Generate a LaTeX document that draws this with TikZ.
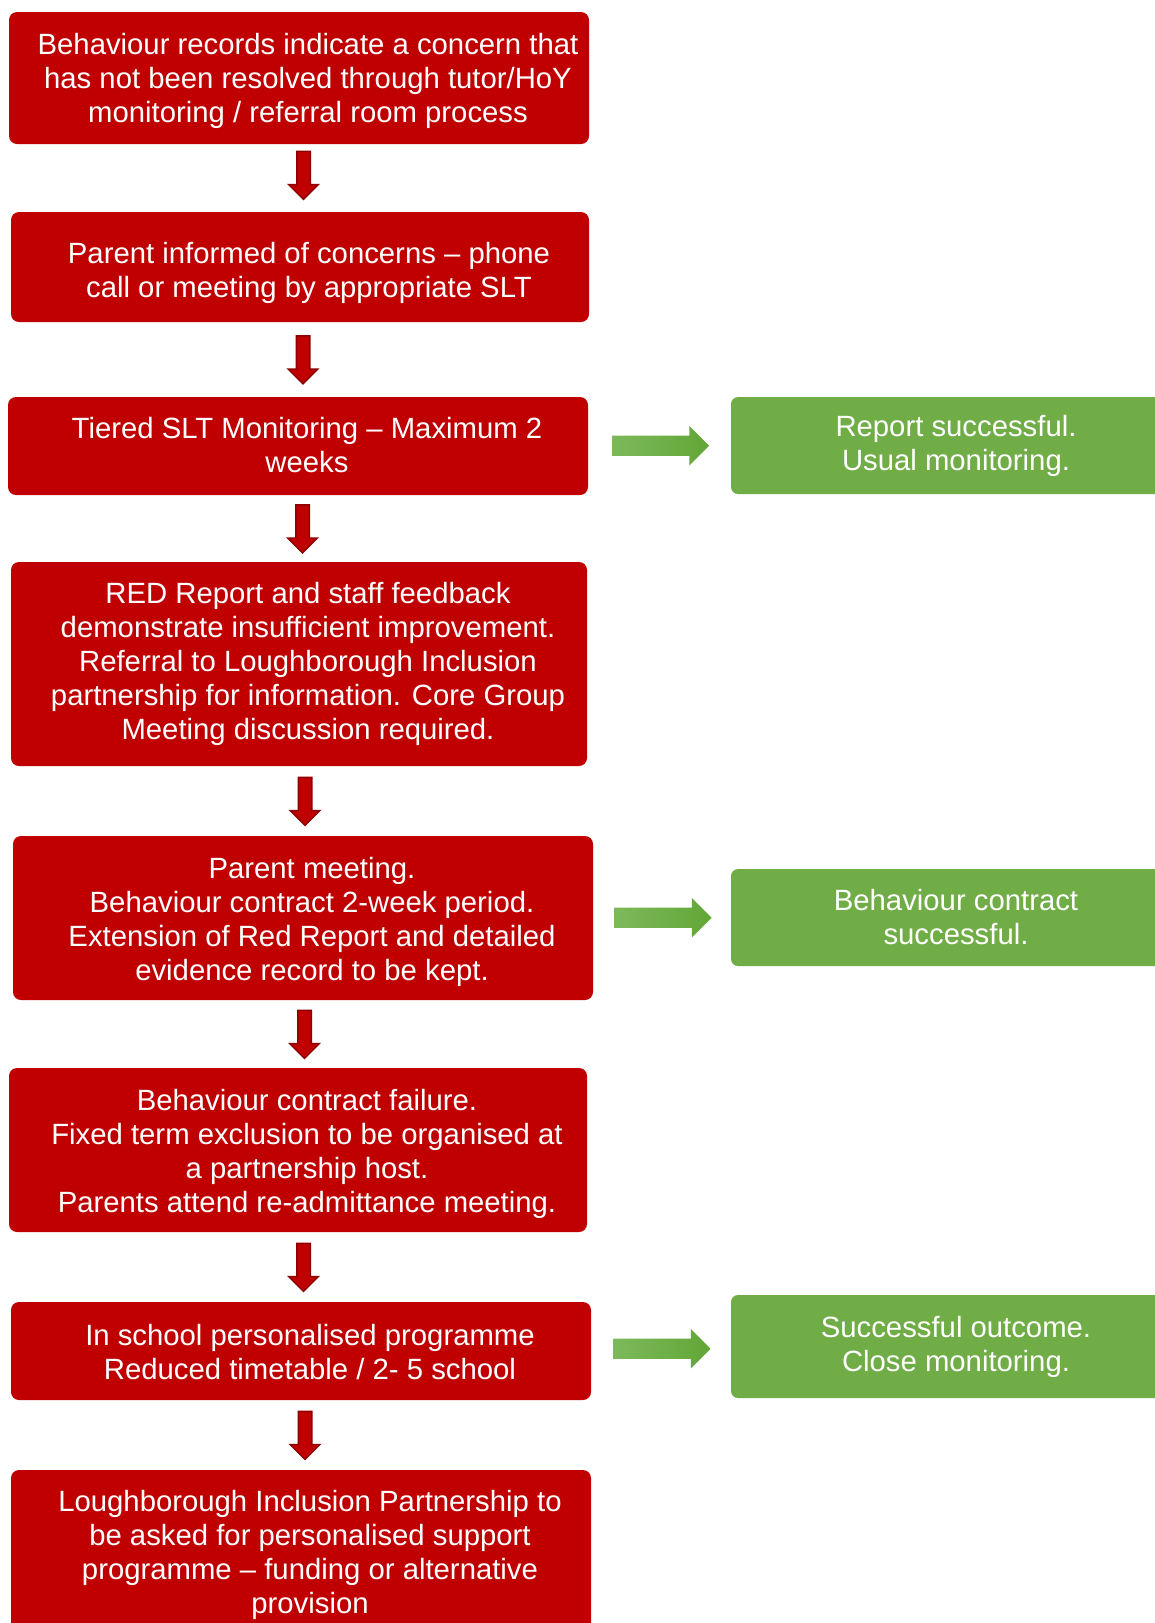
\documentclass[tikz,border=0pt]{standalone}
\usepackage{fontspec}
\setmainfont{Liberation Sans}
\usetikzlibrary{shapes.arrows}
\definecolor{boxred}{HTML}{C00000}
\definecolor{arrowred}{HTML}{8E0000}
\definecolor{boxgreen}{HTML}{70AD47}
\definecolor{lightgreen}{HTML}{7DB95B}
\definecolor{darkgreen}{HTML}{62A636}
\newcommand{\boxlines}[2][5pt]{\hspace*{18pt}\raisebox{-#1}[\height][\depth]{\begin{tabular}{@{}c@{}}#2\end{tabular}}}
\tikzset{
    redbox/.style={rectangle,rounded corners=8pt,fill=boxred,text=white,inner sep=0pt,minimum width=580pt},
    greenbox/.style={rectangle,rounded corners=7pt,fill=boxgreen,text=white,inner sep=0pt,minimum width=450pt,align=center},
    downarrow/.style={single arrow,shape border rotate=270,fill=boxred,draw=arrowred,line width=1.5pt,inner sep=6pt,minimum height=48pt,single arrow head extend=8pt,single arrow tip angle=90},
    rightarrow/.style={single arrow,left color=lightgreen,right color=darkgreen,inner sep=10pt,minimum height=97pt,single arrow head extend=9.5pt,single arrow tip angle=90}
}

\begin{document}
\begin{tikzpicture}[x=1pt,y=-1pt,font=\fontsize{29.3pt}{34pt}\selectfont]
\path[use as bounding box,clip] (0,0) rectangle (1155,1623);

% main column
\node[redbox,minimum height=132pt] (b1) at (299,78)
    {\boxlines[4pt]{Behaviour records indicate a concern that\\has not been resolved through tutor/HoY\\monitoring / referral room process}};
\node[redbox,minimum height=110pt,minimum width=578pt] (b2) at (300,267)
    {\boxlines[7pt]{Parent informed of concerns -- phone\\call or meeting by appropriate SLT}};
\node[redbox,minimum height=98pt] (b3) at (298,446)
    {\boxlines[3pt]{Tiered SLT Monitoring -- Maximum 2\\weeks}};
\node[redbox,minimum height=204pt,minimum width=576pt] (b4) at (299,664)
    {\boxlines[1pt]{RED Report and staff feedback\\demonstrate insufficient improvement.\\Referral to Loughborough Inclusion\\partnership for information. Core Group\\Meeting discussion required.}};
\node[redbox,minimum height=164pt] (b5) at (303,918)
    {\boxlines{Parent meeting.\\Behaviour contract 2-week period.\\Extension of Red Report and detailed\\evidence record to be kept.}};
\node[redbox,minimum height=164pt,minimum width=578pt] (b6) at (298,1150)
    {\boxlines{Behaviour contract failure.\\Fixed term exclusion to be organised at\\a partnership host.\\Parents attend re-admittance meeting.}};
\node[redbox,minimum height=98pt] (b7) at (301,1351)
    {\boxlines{In school personalised programme\\Reduced timetable / 2- 5 school}};
\node[redbox,minimum height=163pt] (b8) at (301,1551.5)
    {\boxlines[4pt]{Loughborough Inclusion Partnership to\\be asked for personalised support\\programme -- funding or alternative\\provision}};

% outcomes
\node[greenbox,minimum height=97pt] (g1) at (956,445.5) {Report successful.\\Usual monitoring.};
\node[greenbox,minimum height=97pt] (g2) at (956,917.5) {Behaviour contract\\successful.};
\node[greenbox,minimum height=103pt] (g3) at (956,1346.5) {Successful outcome.\\Close monitoring.};

\foreach \a/\b/\up in {b1/b2/6,b2/b3/3,b3/b4/3,b4/b5/3,b5/b6/3,b6/b7/3,b7/b8/3}
    \path ([xshift=4pt,yshift=\up pt]\a.south) -- ([xshift=4pt,yshift=\up pt]\b.north) node[midway,downarrow] {};
\foreach \a/\b in {b3/g1,b5/g2,b7/g3}
    \path ([xshift=-4pt]\a.east) -- ([xshift=-4pt]\b.west) node[midway,rightarrow] {};
\end{tikzpicture}
\end{document}
